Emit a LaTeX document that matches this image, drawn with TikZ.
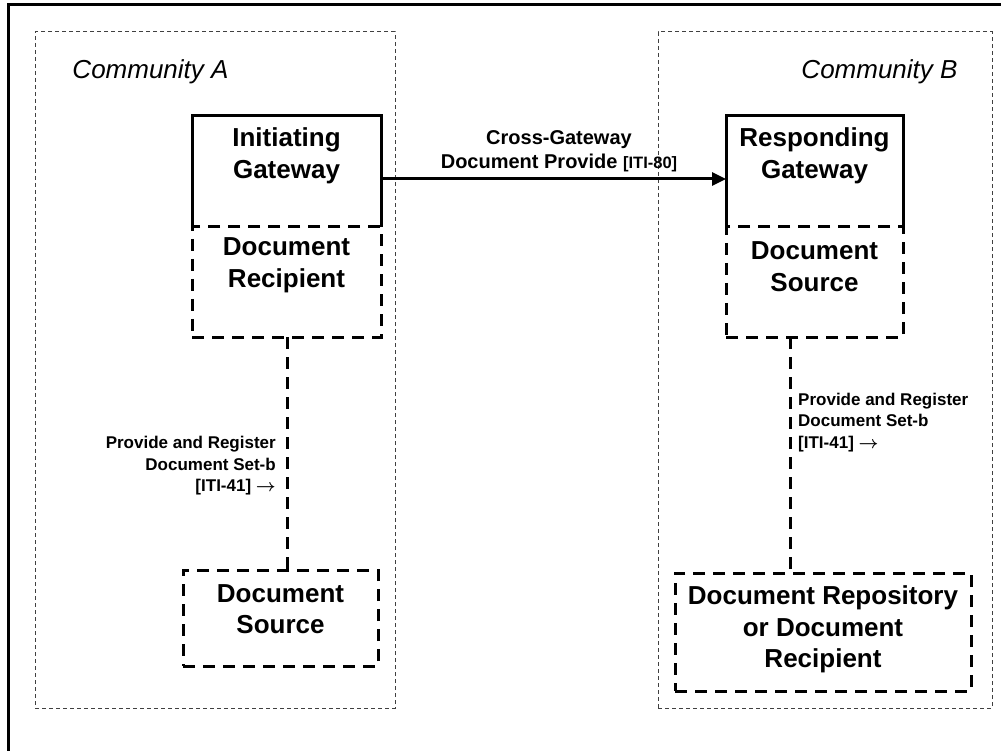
\documentclass[tikz,border=0pt]{standalone}
\usepackage{fontspec}
\setmainfont{Liberation Sans}
\usetikzlibrary{arrows.meta}
\tikzset{
  box/.style={inner sep=0pt, outer sep=0pt},
  solidbox/.style={line width=3pt, line join=miter},
  dashbox/.style={draw, line width=3pt, dash pattern=on 12pt off 8pt, inner sep=0pt, outer sep=0pt},
  community/.style={draw=black!75, line width=1pt, dash pattern=on 4pt off 3pt, inner sep=0pt, outer sep=0pt},
  bigtxt/.style={font=\fontsize{26}{31.5}\selectfont\bfseries, align=center, inner sep=0pt},
  commtxt/.style={font=\fontsize{26}{31}\selectfont\itshape, inner sep=0pt},
  smalltxt/.style={font=\fontsize{17}{21.5}\selectfont\bfseries, inner sep=0pt},
  conn/.style={line width=3pt, dash pattern=on 12pt off 8pt},
}
\newcommand{\rarr}{$\boldsymbol{\rightarrow}$}
\usepackage{amsmath}
\begin{document}
\begin{tikzpicture}[x=1pt,y=-1pt]
\useasboundingbox (0,0) rectangle (1001,751);
\clip (0,0) rectangle (1001,751);
% outer frame (cropped at right and bottom)
\draw[line width=3pt] (8,5) rectangle (1020,770);
% communities
\node[community, minimum width=360pt, minimum height=676pt] (ca) at (215,370) {};
\node[community, minimum width=334pt, minimum height=676pt] (cb) at (825,370) {};
\node[commtxt] (cal) at (150.5,72) {Community A};
\node[commtxt] (cbl) at (879.5,72) {Community B};
% Initiating Gateway
\node[box, minimum width=189pt, minimum height=111pt] (ig) at (286.5,171.5) {};
\draw[solidbox] (ig.south west) -- (ig.north west) -- (ig.north east) -- (ig.south east);
\node[bigtxt] (igt) at (286.5,156) {Initiating\\Gateway};
\node[dashbox, minimum width=189pt, minimum height=110pt] (dr) at (286.5,282) {};
\node[bigtxt] (drt) at (286.5,265.5) {Document\\Recipient};
% Responding Gateway
\node[box, minimum width=177pt, minimum height=111pt] (rg) at (814.5,171.5) {};
\draw[solidbox] (rg.south west) -- (rg.north west) -- (rg.north east) -- (rg.south east);
\node[bigtxt] (rgt) at (814.5,156) {Responding\\Gateway};
\node[dashbox, minimum width=177pt, minimum height=110pt] (ds2) at (814.5,282) {};
\node[bigtxt] (ds2t) at (814.5,266.5) {Document\\Source};
% Document Source (A)
\node[dashbox, minimum width=195pt, minimum height=96pt] (ds1) at (280.5,618) {};
\node[bigtxt] (ds1t) at (280.5,609) {Document\\Source};
% Document Repository (B)
\node[dashbox, minimum width=296pt, minimum height=118pt] (rep) at (823,632) {};
\node[bigtxt] (rept) at (823,629.5) {Document Repository\\or Document\\Recipient};
% Cross-Gateway arrow
\draw[line width=3pt, -{Triangle[length=14pt,width=13pt]}] (ig.east |- 0,179) coordinate (a1) -- (rg.west |- 0,179) coordinate (a2);
\node[font=\fontsize{20}{24}\selectfont\bfseries, align=center, inner sep=0pt] (xgl) at (559,151)
  {Cross-Gateway\\Document Provide {\fontsize{16.5}{20}\selectfont[ITI-80]}};
% ITI-41 connectors
\draw[conn] (dr.south -| 287,0) -- (ds1.north -| 287,0);
\node[smalltxt, align=right, anchor=east] (l1) at (276,466) {Provide and Register\\Document Set-b\\{[ITI-41]} \rarr};
\draw[conn] (ds2.south -| 790,0) -- (rep.north -| 790,0);
\node[smalltxt, align=left, anchor=west] (l2) at (798,422.5) {Provide and Register\\Document Set-b\\{[ITI-41]} \rarr};
\end{tikzpicture}
\end{document}
